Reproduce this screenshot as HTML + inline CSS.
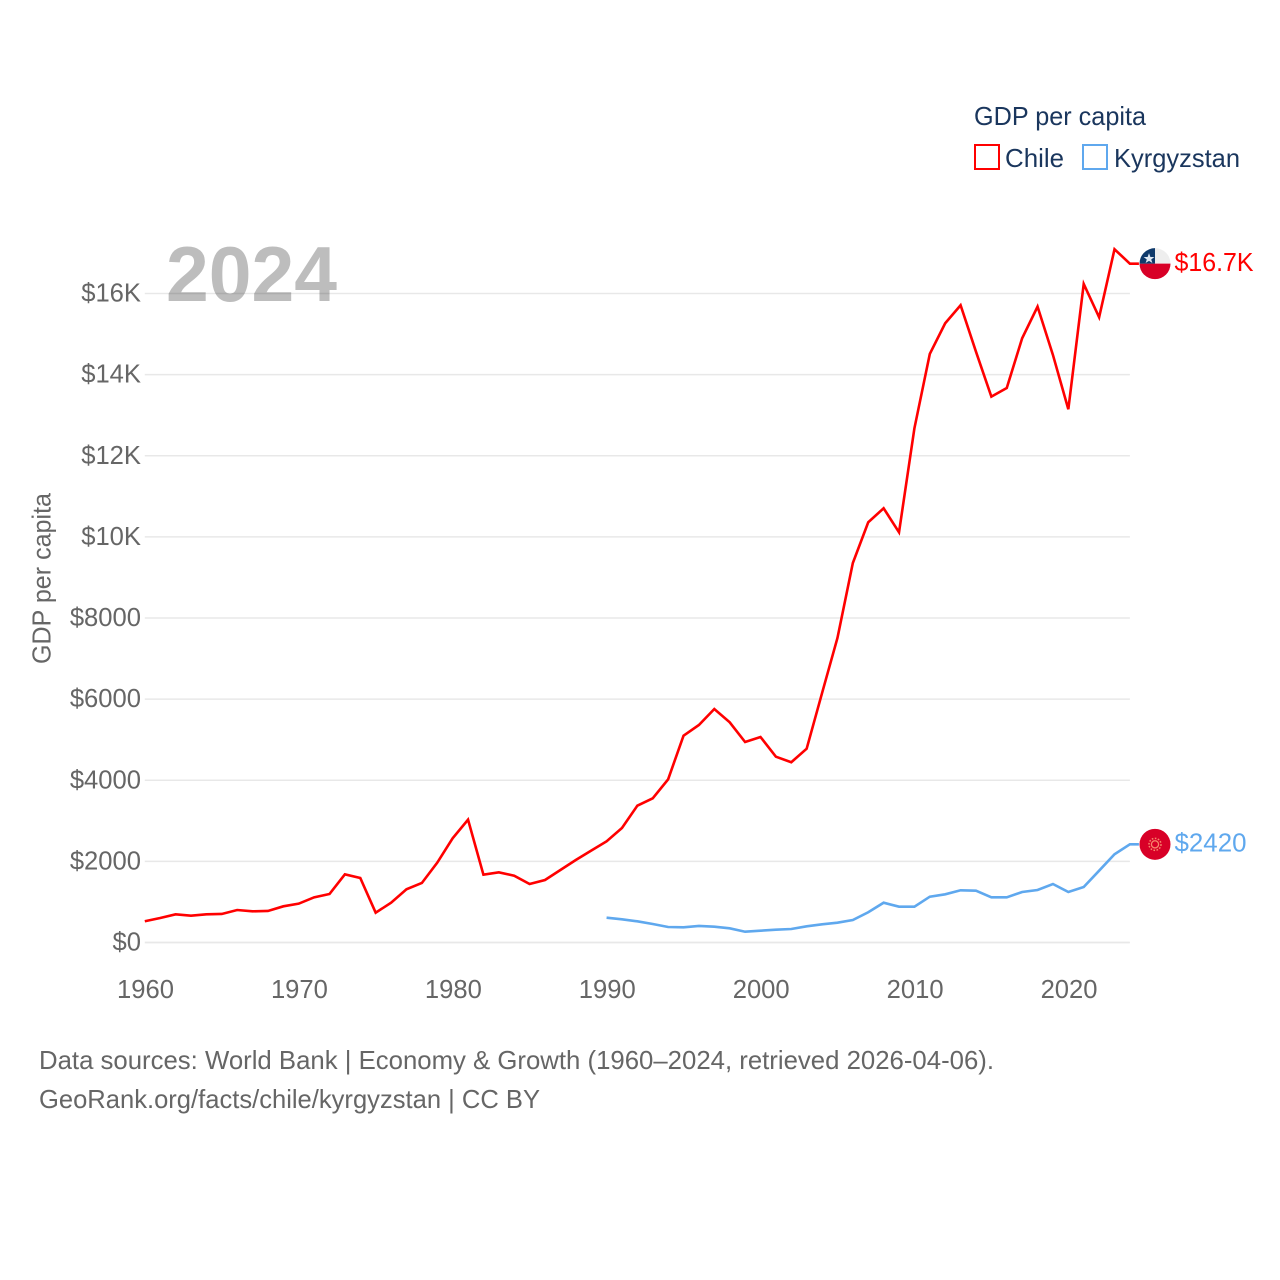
<!DOCTYPE html>
<html lang="en">
<head>
<meta charset="utf-8">
<title>GDP per capita: Chile and Kyrgyzstan</title>
<style>
  html, body { margin: 0; padding: 0; background: #ffffff; }
  svg { display: block; font-family: "Liberation Sans", sans-serif; }
</style>
</head>
<body>
<svg id="chart" xmlns="http://www.w3.org/2000/svg" width="1280" height="1280" viewBox="0 0 1280 1280">
  <rect x="0" y="0" width="1280" height="1280" fill="#ffffff"/>
  <text x="166" y="301" font-size="78" font-weight="700" fill="#bdbdbd" textLength="171" lengthAdjust="spacingAndGlyphs">2024</text>
  <g id="grid"></g>
  <g id="y-ticks"></g>
  <g id="x-ticks"></g>
  <text transform="translate(50.5,664) rotate(-90)" font-size="26" fill="#666666" textLength="171" lengthAdjust="spacingAndGlyphs">GDP per capita</text>
  <g id="series"></g>

  <g id="flag-chile">
    <path d="M-15.5 0A15.5 15.5 0 0 1 15.5 0Z" fill="#eeeeee"/>
    <path d="M-15.5 0A15.5 15.5 0 0 0 15.5 0Z" fill="#d80027"/>
    <path d="M-15.5 0A15.5 15.5 0 0 1 0 -15.5V0Z" fill="#0f3a6b"/>
    <polygon points="-6,-10.5 -4.6,-6.6 -0.6,-6.6 -3.8,-4.2 -2.6,-0.6 -6,-2.8 -9.4,-0.6 -8.2,-4.2 -11.4,-6.6 -7.4,-6.6" fill="#dfe8f2"/>
  </g>
  <g id="flag-kyrgyzstan">
    <circle r="15.5" fill="#d80027"/>
    <circle r="3.6" fill="none" stroke="#f7876b" stroke-width="1.3"/>
    <circle r="6" fill="none" stroke="#f7876b" stroke-width="1.5" stroke-dasharray="1.6 1.5"/>
  </g>

  <text id="label-chile" x="1174.5" font-size="26" fill="#ff0000" textLength="79" lengthAdjust="spacingAndGlyphs">$16.7K</text>
  <text id="label-kyrgyzstan" x="1174.5" font-size="26" fill="#5fa8ee" textLength="72" lengthAdjust="spacingAndGlyphs">$2420</text>

  <g>
    <text x="974" y="125" font-size="26" fill="#1a365d" textLength="172" lengthAdjust="spacingAndGlyphs">GDP per capita</text>
    <g>
      <rect x="975" y="145" width="24" height="24" fill="none" stroke="#ff0000" stroke-width="2"/>
      <text x="1005" y="167" font-size="26" fill="#1a365d" textLength="59" lengthAdjust="spacingAndGlyphs">Chile</text>
    </g>
    <g>
      <rect x="1083" y="145" width="24" height="24" fill="none" stroke="#5fa8ee" stroke-width="2"/>
      <text x="1114" y="167" font-size="26" fill="#1a365d" textLength="126" lengthAdjust="spacingAndGlyphs">Kyrgyzstan</text>
    </g>
  </g>

  <text x="39" y="1069" font-size="26" fill="#666666" textLength="955" lengthAdjust="spacingAndGlyphs">Data sources: World Bank | Economy &amp; Growth (1960–2024, retrieved 2026-04-06).</text>
  <text x="39" y="1108" font-size="26" fill="#666666" textLength="501" lengthAdjust="spacingAndGlyphs">GeoRank.org/facts/chile/kyrgyzstan | CC BY</text>
</svg>

<script>
const years = [
  1960,1961,1962,1963,1964,1965,1966,1967,1968,1969,
  1970,1971,1972,1973,1974,1975,1976,1977,1978,1979,
  1980,1981,1982,1983,1984,1985,1986,1987,1988,1989,
  1990,1991,1992,1993,1994,1995,1996,1997,1998,1999,
  2000,2001,2002,2003,2004,2005,2006,2007,2008,2009,
  2010,2011,2012,2013,2014,2015,2016,2017,2018,2019,
  2020,2021,2022,2023,2024
];
const chileValues = [
  523,604,695,661,695,703,801,769,777,892,
  957,1114,1196,1681,1590,735,981,1312,1467,1968,
  2569,3028,1672,1730,1647,1442,1541,1787,2034,2264,
  2495,2823,3373,3555,4023,5099,5362,5757,5428,4943,
  5067,4581,4443,4778,6150,7507,9356,10360,10705,10113,
  12677,14510,15266,15710,14566,13457,13671,14896,15676,14485,
  13146,16235,15414,17091,16736
];
const kyrgyzstanValues = [
  null,null,null,null,null,null,null,null,null,null,
  null,null,null,null,null,null,null,null,null,null,
  null,null,null,null,null,null,null,null,null,null,
  612,572,522,456,382,374,407,390,350,266,
  291,316,333,399,449,488,555,745,981,883,
  883,1129,1188,1287,1277,1114,1114,1245,1294,1442,
  1245,1368,1770,2175,2420
];
const yTickValues = [0,2000,4000,6000,8000,10000,12000,14000,16000];
const yTickLabels = ["$0","$2000","$4000","$6000","$8000","$10K","$12K","$14K","$16K"];
const xTickValues = [1960,1970,1980,1990,2000,2010,2020];
const xTickLabels = ["1960","1970","1980","1990","2000","2010","2020"];

const SVG_NS = "http://www.w3.org/2000/svg";
const plotLeft = 144.8, plotRight = 1129.9, plotBottom = 942.5, plotTop = 293.5;
const yearMin = 1960, yearMax = 2024, valueMax = 16000;

function xScale(year) {
  return plotLeft + (year - yearMin) / (yearMax - yearMin) * (plotRight - plotLeft);
}
function yScale(value) {
  return plotBottom - value / valueMax * (plotBottom - plotTop);
}
function make(tag, attrs, parent) {
  const el = document.createElementNS(SVG_NS, tag);
  for (const k in attrs) el.setAttribute(k, attrs[k]);
  parent.appendChild(el);
  return el;
}

const gridGroup = document.getElementById("grid");
const yTickGroup = document.getElementById("y-ticks");
const xTickGroup = document.getElementById("x-ticks");
const seriesGroup = document.getElementById("series");

yTickValues.forEach(function (v, i) {
  const line = make("line", {
    x1: plotLeft, x2: plotRight, y1: yScale(v), y2: yScale(v),
    stroke: "#000000", "stroke-opacity": 0.09, "stroke-width": v === 0 ? 1.8 : 1.5
  }, gridGroup);
  
  

  const label = make("text", {
    x: 141, y: yScale(v) + 8, "text-anchor": "end",
    "font-size": 25.6, fill: "#666666"
  }, yTickGroup);
  label.textContent = yTickLabels[i];
  
  
});

xTickValues.forEach(function (t, i) {
  const label = make("text", {
    x: xScale(t) + 0.7, y: 998, "text-anchor": "middle",
    "font-size": 25.6, fill: "#666666"
  }, xTickGroup);
  label.textContent = xTickLabels[i];
  
  
});

function seriesPath(values) {
  let d = "";
  let lastX = 0, lastY = 0;
  values.forEach(function (v, i) {
    if (v === null) return;
    lastX = xScale(years[i]);
    lastY = yScale(v);
    d += (d ? "L" : "M") + lastX.toFixed(2) + " " + lastY.toFixed(2);
  });
  /* short flat leader from the final point to the flag */
  d += "L" + (lastX + 9).toFixed(2) + " " + lastY.toFixed(2);
  return d;
}

const chileLine = make("path", {
  d: seriesPath(chileValues), fill: "none", stroke: "#ff0000",
  "stroke-width": 2.6, "stroke-linejoin": "miter"
}, seriesGroup);



const kyrgyzstanLine = make("path", {
  d: seriesPath(kyrgyzstanValues), fill: "none", stroke: "#5fa8ee",
  "stroke-width": 2.6, "stroke-linejoin": "miter"
}, seriesGroup);



function placeEnd(flagId, labelId, values) {
  const last = values[values.length - 1];
  const yPos = yScale(last);
  document.getElementById(flagId).setAttribute("transform", "translate(1155," + yPos.toFixed(2) + ")");
  document.getElementById(labelId).setAttribute("y", (yPos + 7.3).toFixed(2));
}
placeEnd("flag-chile", "label-chile", chileValues);
placeEnd("flag-kyrgyzstan", "label-kyrgyzstan", kyrgyzstanValues);
</script>
</body>
</html>
